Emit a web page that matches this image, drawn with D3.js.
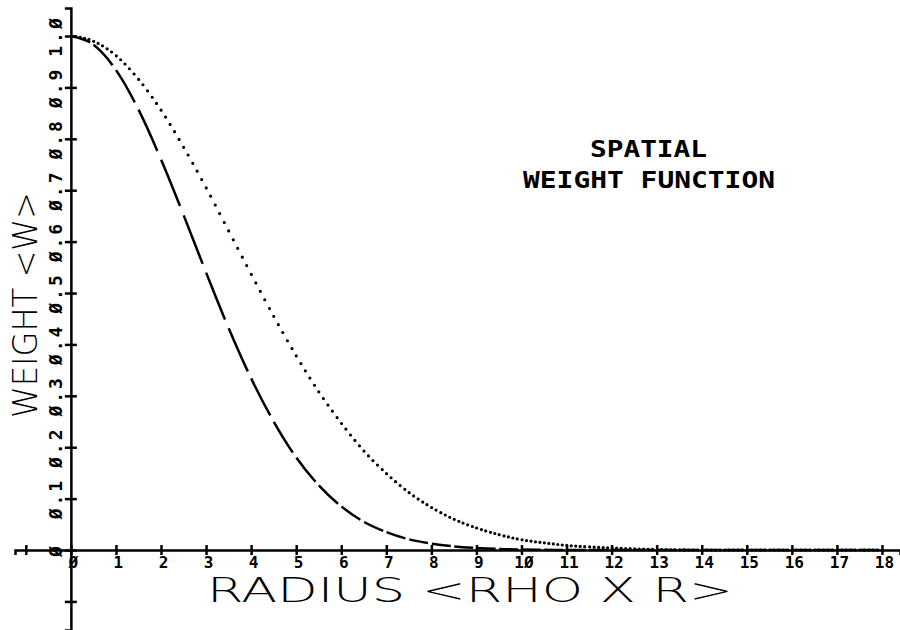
<!DOCTYPE html>
<html lang="en">
<head>
    <meta charset="UTF-8">
    <title> Spatial Weight Function </title>
    <script src="https://cdn.jsdelivr.net/npm/d3@7/dist/d3.min.js"></script>
    <style>
        body { margin: 0; background: #fff; }
        text { font-family: "DejaVu Sans Mono", monospace; fill: #000; }
    </style>
</head>
<body>
<svg width="900" height="630" viewBox="0 0 900 630"></svg>
<script>
    // values
    let radius = [0, 0.5, 1, 1.5, 2, 2.5, 3, 3.5, 4, 4.5, 5, 5.5, 6, 6.5, 7, 7.5, 8, 8.5, 9, 9.5, 10, 10.5, 11, 11.5, 12, 13, 14, 15, 16, 17, 18]
    let weightDashed = [1.0, 0.983, 0.934, 0.857, 0.76, 0.652, 0.54, 0.432, 0.334, 0.25, 0.18, 0.126, 0.085, 0.055, 0.035, 0.021, 0.0125, 0.007, 0.004, 0.002, 0.001, 0.0005, 0, 0, 0, 0, 0, 0, 0, 0, 0]
    let weightDotted = [1.0, 0.99, 0.962, 0.916, 0.856, 0.784, 0.705, 0.621, 0.537, 0.455, 0.378, 0.308, 0.247, 0.193, 0.149, 0.112, 0.083, 0.06, 0.043, 0.03, 0.02, 0.014, 0.009, 0.006, 0.004, 0.001, 0, 0, 0, 0, 0]
    let xTicks = [-1, 0, 1, 2, 3, 4, 5, 6, 7, 8, 9, 10, 11, 12, 13, 14, 15, 16, 17, 18]
    let yTicks = [-0.1, 0, 0.1, 0.2, 0.3, 0.4, 0.5, 0.6, 0.7, 0.8, 0.9, 1.0]

    let svg = d3.select('svg');
    let scaleX = d3.scaleLinear().domain([-1.24, 18.4]).range([15, 900]);
    let scaleY = d3.scaleLinear().domain([-0.1556, 1.0545]).range([630, 8]);

    let zeroSlash = s => s.replace(/0/g, '\u00D8');

    // x axis
    let gx = svg.append('g')
        .attr('transform', 'translate(0,' + scaleY(0) + ')')
        .call(d3.axisBottom(scaleX).tickValues(xTicks).tickSizeOuter(0).tickSize(5)
            .tickFormat(d => d < 0 ? '' : zeroSlash(String(d))));
    gx.select('.domain').attr('stroke-width', 2.5);
    gx.selectAll('.tick line').attr('y1', -5).attr('y2', 5).attr('stroke-width', 2.5);
    gx.selectAll('.tick text')
        .attr('y', 7).attr('dx', 2)
        .style('font-family', '"DejaVu Sans Mono", monospace')
        .style('font-weight', 'bold').style('font-size', '16px');

    // y axis
    let gy = svg.append('g')
        .attr('transform', 'translate(' + scaleX(0) + ',0)')
        .call(d3.axisLeft(scaleY).tickValues(yTicks).tickSizeOuter(0).tickSize(6).tickFormat(''));
    gy.select('.domain').attr('stroke-width', 2.5);
    gy.selectAll('.tick line').attr('x1', -6).attr('x2', 6).attr('stroke-width', 2.5);

    svg.append('g').selectAll('text')
        .data(yTicks.filter(d => d >= 0))
        .enter()
        .append('text')
        .attr('transform', d => 'translate(62,' + scaleY(d) + ') rotate(-90)')
        .attr('text-anchor', 'middle')
        .style('font-weight', 'bold').style('font-size', '18px')
        .attr('letter-spacing', 3)
        .text(d => d === 0 ? '\u00D8' : zeroSlash(d3.format('.1f')(d)));

    // curves
    let line = (ys) => d3.line()
        .x((d, i) => scaleX(radius[i]))
        .y((d, i) => scaleY(ys[i]))
        .curve(d3.curveMonotoneX)(radius);

    // dash pattern stepped along x, like the pen plotter did
    function xDashes(node, x0, step, onLen) {
        let total = node.getTotalLength();
        let arr = [], last = 0, on = true, k = 0;
        let boundary = x0 + onLen;
        for (let l = 0; l <= total; l += 0.5) {
            let p = node.getPointAtLength(l);
            while (p.x >= boundary) {
                arr.push(l - last);
                last = l;
                if (on) { k++; boundary = x0 + k * step; }
                else { boundary = x0 + k * step + onLen; }
                on = !on;
            }
        }
        arr.push(total - last);
        if (arr.length % 2) arr.push(0);
        return arr.join(' ');
    }

    let unit = scaleX(1) - scaleX(0);

    let dashed = svg.append('path')
        .attr('d', line(weightDashed))
        .attr('fill', 'none')
        .attr('stroke', '#000')
        .attr('stroke-width', 2.5);
    dashed.attr('stroke-dasharray', xDashes(dashed.node(), scaleX(0), unit * 0.5, unit * 0.42));

    let dotted = svg.append('path')
        .attr('d', line(weightDotted))
        .attr('fill', 'none')
        .attr('stroke', '#000')
        .attr('stroke-width', 3.2)
        .attr('stroke-linecap', 'round');
    dotted.attr('stroke-dasharray', xDashes(dotted.node(), scaleX(0), unit * 0.1, 0));

    // titles
    svg.append('text')
        .attr('x', 207).attr('y', 602)
        .attr('textLength', 526).attr('lengthAdjust', 'spacingAndGlyphs')
        .style('font-size', '33px')
        .style('font-family', '"DejaVu Sans", sans-serif')
        .style('font-weight', '300')
        .text('RADIUS <RHO  X  R>');

    svg.append('text')
        .attr('transform', 'translate(37,418) rotate(-90)')
        .attr('textLength', 226).attr('lengthAdjust', 'spacingAndGlyphs')
        .style('font-size', '33px')
        .style('font-family', '"DejaVu Sans", sans-serif')
        .style('font-weight', '300')
        .text('WEIGHT <W>');

    svg.append('text')
        .attr('x', 590).attr('y', 157)
        .attr('textLength', 117).attr('lengthAdjust', 'spacingAndGlyphs')
        .style('font-size', '23px').style('font-weight', 'bold')
        .text('SPATIAL');

    svg.append('text')
        .attr('x', 523).attr('y', 188)
        .attr('textLength', 252).attr('lengthAdjust', 'spacingAndGlyphs')
        .style('font-size', '23px').style('font-weight', 'bold')
        .text('WEIGHT FUNCTION');
</script>
</body>
</html>
